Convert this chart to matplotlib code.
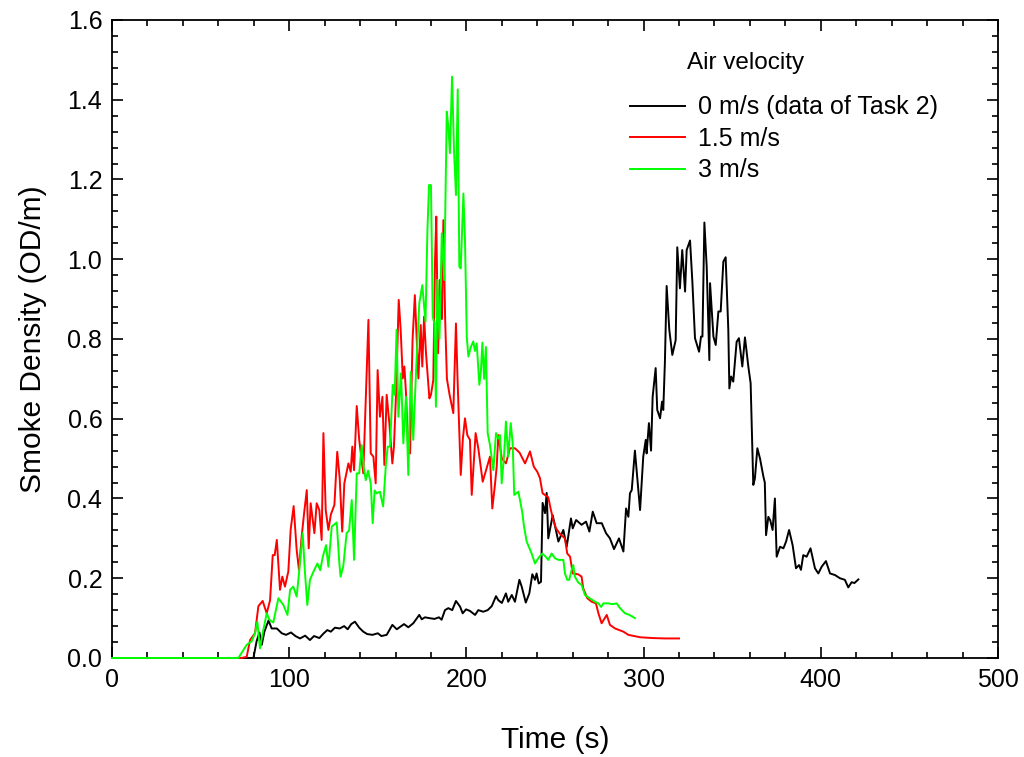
import matplotlib
matplotlib.use("Agg")
import matplotlib.pyplot as plt
from matplotlib.ticker import MultipleLocator, FormatStrFormatter

plt.rcParams['font.family'] = ['Liberation Sans', 'DejaVu Sans']

# ---- data: 0 m/s (data of Task 2) ----
t_0 = [0, 79.8, 81.6, 83.2, 84.5, 86.0, 88.3, 90.1, 93.0, 95.8, 98.2, 101, 103.5, 106.1, 109, 111.7,
       114, 117, 119.5, 121.5, 123.5, 125.8, 128.5, 131, 133, 135, 137.1, 139.5, 141.8, 144, 147, 150,
       152, 155, 158.2, 160.7, 164.8, 167.2, 170, 173.4, 174.8, 176.6, 179, 182, 184.5, 186, 187.9,
       189.8, 192, 194.1, 196.4, 197.9, 199.8, 202, 204.9, 206.7, 209.5, 212, 214.3, 216.7, 218,
       220, 222.3, 223.6, 225.6, 227.4, 229.9, 231.2, 233.5, 235.5, 237.2, 238.7, 239.6, 240.8, 242.1,
       243, 244.4, 245.3, 246.2, 248.7, 251.9, 254.7, 256.6, 259, 260, 261.9, 265, 267.5, 269.4,
       271.3, 273.5, 276.4, 278.8, 281, 283.3, 286.1, 288.6, 290.1, 291.4, 292.3, 293.3, 295.1, 298,
       299.8, 301.2, 301.7, 303, 304.2, 305.1, 306.8, 307.7, 309.3, 310.4, 311.1, 312, 313, 314.5,
       316.2, 318.1, 319, 320.5, 321.8, 323.4, 324.3, 326.2, 327.5, 329, 331.3, 332.4, 333.2, 334.3,
       335.6, 337.1, 337.5, 339.4, 340.7, 342.2, 343.5, 345, 346.3, 347.8, 348.4, 349.4, 350.6,
       352.5, 353.8, 355.7, 357.2, 359.1, 360.4, 361.9, 362.8, 364.2, 365.7, 367.6, 368.4, 369.1,
       370.4, 371.5, 372.8, 374.1, 375.1, 377, 378.9, 380.4, 382.1, 384.1, 386, 387.7, 388.8, 390.1,
       392, 394.2, 396.7, 398.6, 400.5, 402.9, 405.2, 408, 410.8, 413.6, 415.5, 417.4, 419, 421.2]
d_0 = [0.0, 0.0, 0.042, 0.064, 0.033, 0.066, 0.094, 0.074, 0.074, 0.062, 0.058, 0.064, 0.055, 0.049, 0.056, 0.045,
       0.055, 0.05, 0.062, 0.07, 0.066, 0.076, 0.074, 0.08, 0.072, 0.085, 0.091, 0.076, 0.066, 0.06, 0.058, 0.062,
       0.055, 0.058, 0.083, 0.072, 0.085, 0.077, 0.087, 0.108, 0.097, 0.102, 0.1, 0.098, 0.102, 0.096, 0.12,
       0.125, 0.12, 0.143, 0.129, 0.112, 0.122, 0.118, 0.108, 0.12, 0.116, 0.12, 0.13, 0.155, 0.145,
       0.138, 0.162, 0.141, 0.158, 0.141, 0.196, 0.179, 0.139, 0.162, 0.21, 0.196, 0.212, 0.187, 0.191,
       0.389, 0.363, 0.414, 0.30, 0.358, 0.292, 0.321, 0.279, 0.35, 0.325, 0.346, 0.334, 0.342, 0.317,
       0.367, 0.338, 0.338, 0.313, 0.30, 0.273, 0.30, 0.267, 0.375, 0.354, 0.413, 0.421, 0.52, 0.371,
       0.505, 0.547, 0.513, 0.589, 0.52, 0.655, 0.727, 0.622, 0.601, 0.643, 0.622, 0.739, 0.933, 0.823,
       0.76, 0.797, 1.03, 0.927, 1.023, 0.919, 1.023, 1.047, 0.945, 0.802, 0.768, 0.806, 0.806, 1.092,
       0.982, 0.747, 0.94, 0.806, 0.785, 0.869, 0.869, 0.994, 1.005, 0.823, 0.676, 0.706, 0.693,
       0.793, 0.802, 0.731, 0.804, 0.731, 0.689, 0.434, 0.45, 0.526, 0.50, 0.455, 0.44, 0.308,
       0.354, 0.345, 0.321, 0.40, 0.254, 0.279, 0.275, 0.292, 0.321, 0.283, 0.225, 0.233, 0.221, 0.258,
       0.254, 0.275, 0.225, 0.212, 0.229, 0.243, 0.212, 0.208, 0.20, 0.196, 0.177, 0.19, 0.188, 0.197]

# ---- data: 1.5 m/s ----
t_15 = [0, 73.2, 76.0, 77.9, 80.7, 82.6, 85.0, 87.3, 89.2, 90.7, 91.8, 93.0, 94.8, 96.1, 97.6, 99.5,
        100.8, 102.5, 104.2, 105.5, 107.0, 108.4, 109.9, 111.0, 112.1, 114.2, 115.5, 117.0, 118.3,
        119.3, 120.6, 122.1, 123.5, 125.5, 127.1, 128.5, 129.9, 131.1, 133.4, 134.7, 135.6, 136.6,
        138.1, 139.5, 140.9, 141.8, 143.3, 144.7, 146.0, 147.5, 148.8, 149.9, 151.2, 152.6, 153.7,
        155.0, 156.5, 158.2, 159.1, 160.3, 161.8, 162.9, 164.1, 165.0, 165.9, 167.2, 168.2, 169.6,
        170.9, 171.9, 172.9, 174.2, 175.1, 176.1, 177.2, 179.1, 180.0, 181.3, 182.3, 183.0, 184.0,
        185.0, 186.2, 187.0, 188.0, 189.0, 190.5, 192.6, 194.1, 195.0, 196.8, 198.0, 199.2, 200.5,
        202.0, 203.0, 205.2, 206.7, 209.2, 211.0, 213.3, 214.6, 216.0, 217.1, 218.0, 220.0, 222.3,
        224.6, 227.4, 230.0, 233.1, 235.9, 238.0, 240.0, 241.5, 243.0, 246.2, 247.5, 249.0, 250.6,
        253.0, 255.6, 256.9, 258.5, 260.0, 263.0, 265.0, 265.9, 268.2, 270.7, 273.1, 274.5, 276.3,
        279.2, 281.0, 283.9, 288.6, 291.4, 298.0, 305.0, 312.0, 320.0]
d_15 = [0.0, 0.0, 0.003, 0.045, 0.062, 0.13, 0.143, 0.112, 0.145, 0.258, 0.258, 0.296, 0.171, 0.204, 0.179, 0.217,
        0.321, 0.381, 0.271, 0.221, 0.304, 0.363, 0.421, 0.275, 0.388, 0.313, 0.388, 0.371, 0.296,
        0.564, 0.371, 0.321, 0.36, 0.384, 0.517, 0.45, 0.317, 0.438, 0.488, 0.467, 0.53, 0.471,
        0.632, 0.547, 0.497, 0.463, 0.66, 0.848, 0.513, 0.505, 0.438, 0.722, 0.605, 0.655, 0.484,
        0.66, 0.589, 0.488, 0.53, 0.664, 0.898, 0.823, 0.701, 0.731, 0.664, 0.518, 0.513, 0.797,
        0.91, 0.806, 0.701, 0.835, 0.731, 0.856, 0.764, 0.651, 0.66, 0.697, 0.998, 1.107, 0.764,
        0.948, 0.85, 1.098, 0.85, 0.70, 0.66, 0.614, 0.839, 0.70, 0.459, 0.55, 0.601, 0.559,
        0.547, 0.409, 0.564, 0.526, 0.442, 0.47, 0.505, 0.375, 0.43, 0.48, 0.559, 0.50, 0.488,
        0.526, 0.526, 0.515, 0.488, 0.518, 0.48, 0.467, 0.451, 0.413, 0.403, 0.375, 0.346, 0.325,
        0.31, 0.30, 0.262, 0.254, 0.212, 0.21, 0.204, 0.175, 0.15, 0.141, 0.137, 0.112, 0.087,
        0.108, 0.083, 0.074, 0.066, 0.058, 0.052, 0.05, 0.049, 0.049]

# ---- data: 3 m/s ----
t_3 = [0, 71.3, 76.0, 78.8, 80.7, 82.0, 83.5, 85.0, 87.3, 89.0, 91.0, 93.9, 96.7, 99.0, 100.5, 102.3,
       104.2, 105.7, 107.6, 108.8, 110.2, 111.7, 113.5, 115.9, 117.5, 119.0, 120.8, 122.1, 124.0,
       125.5, 126.8, 128.3, 129.0, 130.5, 132.4, 133.8, 135.3, 136.6, 138.1, 139.5, 140.9, 142.0,
       143.2, 144.5, 146.0, 147.1, 148.2, 149.4, 151.2, 153.0, 154.6, 155.6, 156.9, 158.4, 159.5,
       160.6, 161.6, 163.1, 164.4, 165.9, 167.2, 168.6, 170.0, 171.6, 173.4, 175.1, 176.9, 178.0,
       178.9, 180.0, 181.0, 181.9, 182.8, 183.6, 184.8, 186.1, 187.5, 188.9, 189.8, 190.7, 191.9,
       193.0, 194.1, 195.1, 196.0, 196.8, 198.3, 199.2, 200.2, 201.1, 202.5, 203.9, 204.8, 205.8,
       207.3, 208.2, 209.0, 210.0, 211.0, 212.0, 213.3, 215.2, 216.7, 218.0, 219.0, 219.9, 221.2,
       222.3, 223.6, 225.0, 226.1, 227.0, 229.3, 230.5, 231.6, 232.5, 234.0, 236.8, 238.7, 240.5,
       242.8, 244.5, 246.2, 248.1, 250.0, 252.0, 254.7, 255.6, 256.9, 258.0, 259.4, 260.3, 261.2,
       263.0, 265.0, 266.9, 269.5, 272.6, 274.5, 276.0, 277.3, 280.0, 282.5, 284.8, 286.7, 289.5,
       292.0, 295.1]
d_3 = [0.0, 0.0, 0.033, 0.042, 0.062, 0.091, 0.024, 0.062, 0.112, 0.095, 0.089, 0.15, 0.133, 0.108, 0.171, 0.179,
       0.154, 0.221, 0.313, 0.22, 0.133, 0.196, 0.215, 0.237, 0.22, 0.255, 0.283, 0.229, 0.33,
       0.335, 0.34, 0.237, 0.204, 0.23, 0.313, 0.32, 0.396, 0.246, 0.463, 0.463, 0.534, 0.48,
       0.446, 0.47, 0.438, 0.338, 0.42, 0.413, 0.417, 0.38, 0.488, 0.53, 0.53, 0.685, 0.66,
       0.823, 0.605, 0.714, 0.538, 0.655, 0.459, 0.718, 0.547, 0.722, 0.889, 0.935, 0.843, 1.073,
       1.186, 1.186, 0.856, 0.839, 0.63, 0.948, 0.80, 1.065, 0.948, 1.37, 1.333, 1.266, 1.458,
       1.274, 1.161, 1.426, 0.981, 0.977, 1.165, 1.048, 0.806, 0.756, 0.78, 0.794, 0.77, 0.789,
       0.685, 0.72, 0.791, 0.70, 0.78, 0.564, 0.534, 0.471, 0.564, 0.55, 0.559, 0.438, 0.505,
       0.593, 0.505, 0.589, 0.539, 0.409, 0.417, 0.39, 0.363, 0.33, 0.292, 0.262, 0.237, 0.25,
       0.262, 0.255, 0.246, 0.262, 0.25, 0.246, 0.246, 0.212, 0.196, 0.196, 0.221, 0.233, 0.204,
       0.19, 0.183, 0.158, 0.15, 0.141, 0.137, 0.128, 0.137, 0.137, 0.135, 0.137, 0.125, 0.112,
       0.108, 0.10]

labels = ["0 m/s (data of Task 2)", "1.5 m/s", "3 m/s"]
colors = ["#000000", "#ff0000", "#00ff00"]

fig = plt.figure(figsize=(10.24, 7.57), dpi=100)
ax = fig.add_axes([0.1094, 0.1308, 0.8652, 0.8428])

for t, d, c, lab in [(t_0, d_0, colors[0], labels[0]),
                     (t_15, d_15, colors[1], labels[1]),
                     (t_3, d_3, colors[2], labels[2])]:
    ax.plot(t, d, color=c, lw=1.4, label=lab, clip_on=False, zorder=3)

ax.set_xlim(0, 500)
ax.set_ylim(0, 1.6)
ax.xaxis.set_major_locator(MultipleLocator(100))
ax.xaxis.set_minor_locator(MultipleLocator(20))
ax.yaxis.set_major_locator(MultipleLocator(0.2))
ax.yaxis.set_minor_locator(MultipleLocator(0.04))
ax.yaxis.set_major_formatter(FormatStrFormatter('%.1f'))
ax.tick_params(which='both', direction='in', top=True, right=True, width=1.2, labelsize=18)
ax.tick_params(which='major', length=8, pad=7)
ax.tick_params(which='minor', length=4)
for s in ax.spines.values():
    s.set_linewidth(1.3)

ax.set_xlabel("Time (s)", fontsize=21.5, labelpad=25)
ax.set_ylabel("Smoke Density (OD/m)", fontsize=21.5, labelpad=15)

ax.text(0.649, 0.932, "Air velocity", transform=ax.transAxes, fontsize=17.5, va='center', ha='left')
leg = ax.legend(loc='upper left', bbox_to_anchor=(0.585, 0.882), frameon=False, fontsize=18,
                handlelength=2.2, handletextpad=0.5, labelspacing=0.3, borderpad=0, borderaxespad=0)

fig.savefig("out.png", dpi=100)
